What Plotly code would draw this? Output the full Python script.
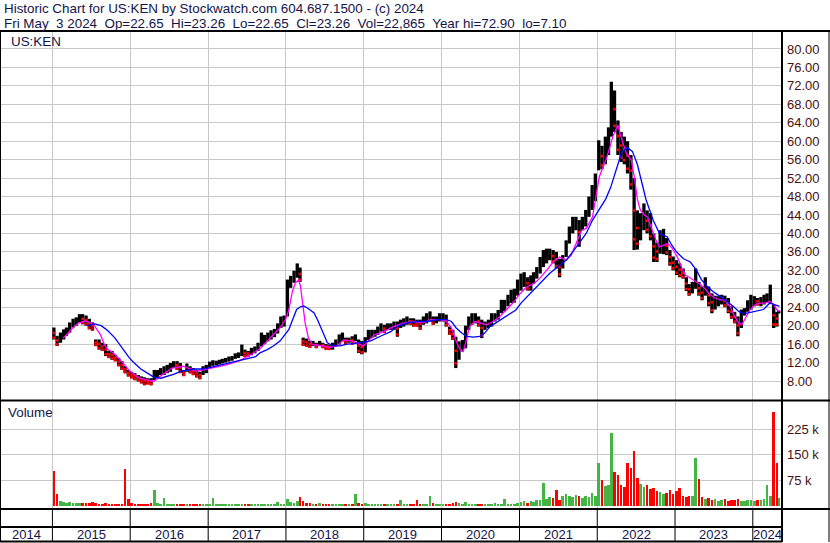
import plotly.graph_objects as go
import datetime as dt

W, H = 830, 543

# ---------------- data ----------------
years = list(range(2014, 2025))

# semimonthly high / low (1st-15th, 16th-end), Jan 2015 .. 3 May 2024
hi_2015 = [19.6, 17.8, 18.5, 19.2, 19.6, 20.7, 21.5, 21.8, 22.5, 22.5, 22.2, 21.5, 20.7, 17.0, 17.0, 16.3, 16.0, 14.5, 14.5, 13.7, 13.0, 12.3, 11.2, 10.4]
lo_2015 = [17.0, 15.6, 16.3, 17.0, 17.8, 18.5, 19.6, 20.0, 20.7, 20.3, 20.0, 19.2, 18.9, 15.6, 14.8, 14.5, 13.4, 13.0, 12.6, 12.3, 11.2, 10.4, 9.7, 9.0]
hi_2016 = [10.0, 9.7, 9.3, 9.0, 8.8, 8.6, 8.6, 10.4, 10.4, 10.8, 11.2, 11.5, 11.9, 12.3, 12.3, 11.9, 10.4, 11.8, 11.2, 10.8, 10.4, 10.0, 11.2, 11.5]
lo_2016 = [8.6, 8.2, 7.9, 7.5, 7.1, 7.3, 7.1, 8.2, 8.8, 9.3, 9.3, 9.7, 10.0, 10.8, 10.4, 9.7, 9.1, 10.0, 9.7, 9.3, 8.8, 8.4, 9.3, 9.7]
hi_2017 = [12.2, 12.5, 12.4, 12.6, 12.8, 13.0, 13.3, 13.4, 14.0, 14.2, 15.9, 14.8, 14.5, 15.2, 15.5, 16.3, 18.5, 18.0, 18.5, 19.0, 19.3, 20.5, 22.0, 22.2]
lo_2017 = [11.0, 11.3, 11.4, 11.6, 11.8, 12.0, 12.2, 12.4, 12.8, 13.0, 13.4, 13.2, 13.3, 13.6, 14.0, 14.5, 15.5, 16.0, 16.6, 17.0, 17.5, 18.3, 19.5, 19.8]
hi_2018 = [30.0, 30.8, 31.9, 33.5, 32.6, 17.4, 17.2, 16.7, 16.7, 16.3, 16.7, 16.3, 16.0, 15.9, 16.3, 17.0, 18.1, 18.5, 17.4, 17.4, 17.7, 18.1, 17.0, 16.7]
lo_2018 = [22.0, 28.2, 29.3, 30.4, 29.5, 15.6, 15.4, 15.2, 15.6, 15.2, 15.6, 15.2, 14.8, 14.8, 14.8, 15.6, 15.9, 16.6, 15.9, 16.3, 15.9, 16.6, 14.1, 13.8]
hi_2019 = [17.5, 19.1, 19.1, 19.1, 19.8, 20.5, 20.2, 20.5, 20.5, 20.9, 20.9, 21.3, 21.6, 22.0, 21.6, 21.6, 21.3, 21.3, 22.0, 22.7, 23.1, 22.0, 22.0, 22.7]
lo_2019 = [14.2, 16.9, 17.3, 17.6, 18.0, 18.7, 18.4, 19.1, 19.1, 19.1, 17.6, 19.5, 19.8, 20.2, 20.2, 19.8, 19.8, 19.1, 20.2, 20.5, 20.9, 20.2, 20.5, 20.9]
hi_2020 = [22.7, 22.4, 19.8, 19.1, 17.6, 16.6, 16.9, 20.0, 22.0, 22.7, 22.7, 22.0, 21.3, 20.9, 21.3, 22.7, 22.7, 23.4, 25.6, 25.6, 26.7, 27.8, 28.0, 30.0]
lo_2020 = [20.9, 19.8, 18.0, 16.9, 10.8, 12.6, 14.4, 15.1, 19.1, 20.2, 20.5, 19.8, 17.3, 19.1, 19.5, 19.8, 20.9, 21.3, 22.7, 23.1, 24.2, 24.9, 25.0, 26.5]
hi_2021 = [31.3, 31.6, 30.5, 30.9, 31.6, 32.7, 34.9, 36.4, 36.7, 36.7, 36.4, 36.0, 34.5, 35.3, 38.5, 41.5, 43.6, 43.6, 42.9, 43.6, 45.1, 48.0, 50.5, 53.0]
lo_2021 = [27.6, 28.4, 27.6, 27.6, 29.1, 30.2, 31.3, 32.7, 33.5, 34.2, 33.5, 32.4, 30.5, 32.4, 34.9, 37.8, 40.0, 40.7, 37.1, 40.7, 41.5, 43.6, 45.1, 47.0]
hi_2022 = [60.2, 59.0, 61.0, 63.0, 72.9, 71.0, 64.5, 62.0, 61.0, 60.0, 57.0, 52.0, 45.0, 44.4, 46.5, 45.0, 44.4, 40.0, 38.0, 40.7, 41.0, 39.0, 36.4, 35.0]
lo_2022 = [53.7, 54.0, 55.0, 57.0, 61.0, 62.0, 57.0, 55.5, 55.0, 53.0, 49.5, 36.4, 36.5, 38.5, 40.7, 40.0, 38.5, 33.8, 33.8, 35.6, 35.5, 35.3, 33.0, 32.0]
hi_2023 = [34.2, 33.5, 32.4, 30.5, 29.0, 29.5, 32.4, 29.5, 28.5, 30.5, 28.5, 27.0, 26.5, 26.4, 26.7, 26.5, 26.0, 24.2, 23.0, 22.0, 23.5, 23.8, 25.5, 26.7]
lo_2023 = [31.0, 30.5, 30.2, 27.5, 26.5, 27.0, 28.0, 26.5, 25.5, 26.5, 24.2, 22.7, 23.5, 24.2, 24.6, 24.0, 22.7, 21.5, 20.5, 17.7, 19.5, 22.2, 23.0, 23.5]
hi_2024 = [26.4, 26.0, 26.2, 26.7, 27.0, 28.9, 24.5, 23.0, 23.26]
lo_2024 = [24.2, 24.4, 24.2, 24.6, 25.0, 24.9, 19.5, 19.8, 22.65]

# biggest daily volume in each half month (thousands of shares)
vol_2015 = [103, 35, 15, 12, 10, 12, 8, 10, 9, 8, 10, 8, 12, 8, 7, 6, 8, 6, 6, 7, 5, 6, 107, 20]
vol_2016 = [8, 5, 4, 4, 5, 6, 8, 47, 10, 6, 22, 5, 4, 5, 4, 3, 4, 5, 4, 3, 4, 5, 4, 3]
vol_2017 = [5, 22, 6, 4, 3, 3, 4, 3, 3, 4, 6, 4, 3, 3, 4, 3, 4, 5, 4, 5, 6, 12, 6, 5]
vol_2018 = [20, 12, 10, 14, 27, 15, 10, 8, 6, 5, 8, 6, 5, 4, 5, 6, 5, 6, 5, 4, 6, 34, 8, 6]
vol_2019 = [8, 6, 5, 6, 5, 4, 5, 6, 5, 6, 5, 17, 6, 5, 4, 5, 17, 6, 5, 6, 28, 8, 5, 6]
vol_2020 = [6, 5, 6, 8, 12, 8, 6, 12, 7, 6, 5, 6, 5, 6, 5, 6, 8, 7, 6, 19, 6, 7, 6, 9]
vol_2021 = [12, 15, 10, 14, 12, 16, 18, 66, 20, 25, 22, 47, 18, 28, 35, 30, 25, 32, 28, 22, 30, 25, 39, 30]
vol_2022 = [127, 76, 57, 60, 214, 100, 91, 61, 55, 125, 110, 161, 81, 65, 55, 61, 50, 52, 45, 40, 35, 38, 47, 35]
vol_2023 = [45, 52, 30, 25, 28, 30, 141, 78, 25, 20, 22, 18, 20, 15, 18, 20, 15, 18, 16, 20, 15, 14, 18, 16]
vol_2024 = [15, 18, 16, 20, 61, 30, 276, 125, 23]

# short (magenta) moving average
fast_dates = ["2015-02-20", "2015-03-15", "2015-04-01", "2015-05-01", "2015-06-01", "2015-07-01", "2015-07-20", "2015-08-15", "2015-09-01", "2015-09-15", "2015-10-15", "2015-11-15", "2015-12-31", "2016-02-15", "2016-04-20", "2016-05-20", "2016-07-15", "2016-09-05", "2016-11-05", "2017-01-25", "2017-03-28", "2017-05-28", "2017-07-15", "2017-09-01", "2017-10-05", "2017-11-01", "2017-12-05", "2017-12-31", "2018-01-15", "2018-01-30", "2018-02-14", "2018-03-01", "2018-03-10", "2018-03-18", "2018-04-01", "2018-04-16", "2018-05-05", "2018-06-10", "2018-07-25", "2018-08-28", "2018-09-28", "2018-10-30", "2018-11-28", "2018-12-31", "2019-01-20", "2019-02-20", "2019-04-05", "2019-05-20", "2019-07-08", "2019-08-22", "2019-10-08", "2019-11-10", "2019-12-25", "2020-01-25", "2020-02-17", "2020-03-10", "2020-03-28", "2020-04-12", "2020-04-27", "2020-05-12", "2020-06-05", "2020-06-28", "2020-07-30", "2020-08-30", "2020-10-01", "2020-10-30", "2020-12-01", "2021-01-01", "2021-02-03", "2021-03-08", "2021-04-05", "2021-05-08", "2021-06-08", "2021-07-08", "2021-08-08", "2021-09-01", "2021-10-01", "2021-10-20", "2021-11-10", "2021-12-10", "2022-01-10", "2022-02-15", "2022-03-15", "2022-04-08", "2022-04-22", "2022-05-18", "2022-06-10", "2022-06-24", "2022-07-08", "2022-07-22", "2022-08-10", "2022-08-25", "2022-09-16", "2022-10-04", "2022-10-20", "2022-11-10", "2022-11-28", "2022-12-20", "2023-01-12", "2023-02-06", "2023-02-20", "2023-03-08", "2023-04-01", "2023-04-28", "2023-05-22", "2023-06-14", "2023-07-08", "2023-07-31", "2023-08-22", "2023-09-16", "2023-10-08", "2023-10-26", "2023-11-10", "2023-11-24", "2023-12-20", "2024-01-12", "2024-02-03", "2024-02-28", "2024-03-21", "2024-04-08", "2024-04-22", "2024-05-03"]
fast_vals = [17.3, 18.3, 19.3, 20.5, 21.0, 20.6, 19.8, 18.0, 16.0, 15.0, 14.0, 12.6, 10.1, 8.6, 7.9, 9.0, 10.8, 11.2, 10.1, 10.8, 11.5, 12.4, 13.6, 15.0, 16.7, 18.1, 19.6, 21.4, 23.5, 27.2, 29.3, 29.9, 28.6, 25.7, 20.6, 17.4, 15.9, 15.7, 15.3, 15.6, 16.9, 16.7, 16.3, 15.6, 16.6, 18.0, 18.7, 19.8, 20.6, 20.9, 20.6, 21.3, 21.3, 20.9, 19.5, 16.6, 14.8, 14.4, 16.9, 19.8, 20.9, 20.6, 20.2, 20.9, 22.0, 23.4, 24.9, 26.8, 28.4, 29.1, 30.2, 32.0, 33.8, 34.9, 34.2, 35.3, 38.5, 40.7, 41.1, 43.6, 52.2, 56.5, 61.0, 63.5, 61.0, 57.3, 55.9, 52.2, 47.5, 45.1, 44.0, 43.6, 40.7, 38.5, 37.1, 37.5, 37.8, 36.7, 34.9, 32.0, 30.9, 30.5, 29.8, 29.0, 28.0, 26.7, 26.0, 25.6, 25.6, 24.2, 22.0, 20.6, 20.2, 21.3, 23.5, 24.6, 24.9, 24.9, 25.3, 24.6, 23.5, 23.1]

# long (blue) moving average
slow_dates = ["2015-06-10", "2015-07-18", "2015-08-18", "2015-09-18", "2015-10-20", "2015-11-12", "2015-12-05", "2015-12-28", "2016-01-20", "2016-02-20", "2016-03-22", "2016-04-22", "2016-05-24", "2016-06-25", "2016-07-25", "2016-08-25", "2016-09-25", "2016-10-27", "2016-11-26", "2016-12-28", "2017-03-01", "2017-05-01", "2017-07-01", "2017-08-12", "2017-09-01", "2017-10-05", "2017-11-03", "2017-12-05", "2017-12-28", "2018-01-15", "2018-01-30", "2018-02-20", "2018-03-10", "2018-03-25", "2018-04-10", "2018-05-12", "2018-05-28", "2018-06-12", "2018-06-28", "2018-07-14", "2018-08-12", "2018-09-12", "2018-10-15", "2018-11-15", "2018-12-31", "2019-02-03", "2019-03-20", "2019-05-08", "2019-06-06", "2019-07-22", "2019-09-10", "2019-10-25", "2019-12-10", "2020-01-25", "2020-02-17", "2020-03-10", "2020-04-05", "2020-04-28", "2020-05-30", "2020-06-28", "2020-07-22", "2020-08-15", "2020-09-12", "2020-10-15", "2020-11-15", "2020-12-15", "2021-01-08", "2021-02-20", "2021-04-05", "2021-05-22", "2021-07-08", "2021-08-08", "2021-09-08", "2021-10-08", "2021-11-10", "2021-12-10", "2022-01-10", "2022-02-10", "2022-03-05", "2022-04-01", "2022-04-25", "2022-05-22", "2022-06-15", "2022-07-08", "2022-07-25", "2022-08-18", "2022-09-20", "2022-10-20", "2022-11-06", "2022-11-25", "2022-12-16", "2023-01-08", "2023-02-10", "2023-03-14", "2023-04-12", "2023-05-05", "2023-06-01", "2023-06-28", "2023-07-30", "2023-09-01", "2023-10-01", "2023-10-27", "2023-11-10", "2023-12-05", "2023-12-28", "2024-01-18", "2024-02-20", "2024-03-06", "2024-03-20", "2024-04-15", "2024-05-05"]
slow_vals = [20.0, 20.4, 20.0, 18.9, 17.4, 15.9, 14.5, 13.0, 11.9, 10.6, 9.7, 8.8, 8.6, 9.0, 9.5, 10.1, 10.4, 10.6, 10.6, 10.8, 11.5, 12.2, 12.8, 13.3, 14.1, 14.8, 15.6, 16.7, 18.1, 19.2, 21.0, 23.5, 24.1, 24.3, 23.9, 22.8, 21.4, 19.9, 18.1, 16.3, 15.6, 15.6, 16.0, 16.1, 16.4, 16.7, 17.7, 18.7, 19.8, 20.6, 20.9, 20.9, 21.3, 21.3, 20.9, 19.5, 18.4, 17.7, 17.5, 17.7, 18.4, 19.8, 20.6, 21.6, 22.4, 23.4, 24.9, 26.9, 29.1, 31.3, 33.1, 34.2, 36.0, 37.8, 40.0, 42.9, 45.1, 47.5, 50.0, 54.0, 57.5, 58.6, 57.8, 55.0, 51.6, 47.3, 42.9, 40.0, 39.6, 39.3, 37.5, 36.0, 34.5, 33.8, 32.0, 30.0, 28.5, 27.4, 26.4, 25.3, 24.2, 23.1, 22.7, 22.7, 22.9, 23.1, 23.5, 24.2, 24.9, 24.5, 24.2]

price_ticks = list(range(8, 81, 4))
vol_ticks = [75000, 150000, 225000]

header1 = "Historic Chart for US:KEN by Stockwatch.com 604.687.1500 - (c) 2024"
header2 = "Fri May  3 2024  Op=22.65  Hi=23.26  Lo=22.65  Cl=23.26  Vol=22,865  Year hi=72.90  lo=7.10"

# ---------------- assemble ----------------
hi = hi_2015 + hi_2016 + hi_2017 + hi_2018 + hi_2019 + hi_2020 + hi_2021 + hi_2022 + hi_2023 + hi_2024
lo = lo_2015 + lo_2016 + lo_2017 + lo_2018 + lo_2019 + lo_2020 + lo_2021 + lo_2022 + lo_2023 + lo_2024
vol = vol_2015 + vol_2016 + vol_2017 + vol_2018 + vol_2019 + vol_2020 + vol_2021 + vol_2022 + vol_2023 + vol_2024

per_dates = []
for yy in range(2015, 2025):
    for mm in range(1, 13):
        per_dates += [f"{yy}-{mm:02d}-08", f"{yy}-{mm:02d}-23"]
per_dates = per_dates[:len(hi)]
per_dates[-1] = "2024-05-02"

mid = [(h + l) / 2 for h, l in zip(hi, lo)]
down = [True] + [mid[i] < mid[i - 1] for i in range(1, len(mid))]

def px(x):
    return x / W

def py(y):
    return 1 - y / H

X_RIGHT = 782
X_START = "2014-04-30"
X_END = "2024-05-17"

fig = go.Figure()

bx, by = [], []
for d, h, l in zip(per_dates, hi, lo):
    bx += [d, d, None]
    by += [l, h, None]
fig.add_trace(go.Scatter(x=bx, y=by, mode="lines", line=dict(color="black", width=3.3),
                         xaxis="x", yaxis="y", hoverinfo="skip", showlegend=False))

rx, ry = [], []
for d, h, l, f in zip(per_dates, hi, lo, down):
    if f:
        rx += [d, d]
        ry += [l + 0.15 * (h - l), l + 0.55 * (h - l)]
fig.add_trace(go.Scatter(x=rx, y=ry, mode="markers",
                         marker=dict(color="#ff0000", size=2.6, symbol="square", line=dict(width=0)),
                         xaxis="x", yaxis="y", hoverinfo="skip", showlegend=False))

fig.add_trace(go.Scatter(x=fast_dates, y=fast_vals, mode="lines", line=dict(color="#ff00ff", width=1.3),
                         xaxis="x", yaxis="y", hoverinfo="skip", showlegend=False))
fig.add_trace(go.Scatter(x=slow_dates, y=slow_vals, mode="lines", line=dict(color="#0000ff", width=1.3),
                         xaxis="x", yaxis="y", hoverinfo="skip", showlegend=False))

vcolors = ["#ff0000" if f else "#44b444" for f in down]
fig.add_trace(go.Bar(x=per_dates, y=[v * 1000 for v in vol], marker=dict(color=vcolors, line=dict(width=0)),
                     width=12 * 86400000, xaxis="x", yaxis="y2", hoverinfo="skip", showlegend=False))

grid = "#c8c8c8"
lab_color = "#4a1010"
txt_color = "#14144a"
font = "Liberation Sans, Arial, sans-serif"

year_starts = [f"{y}-01-01" for y in years[1:]]

fig.update_layout(
    width=W, height=H,
    margin=dict(l=0, r=0, t=0, b=0),
    paper_bgcolor="white", plot_bgcolor="white",
    showlegend=False,
    bargap=0,
    font=dict(family=font, size=13, color=txt_color),
    xaxis=dict(domain=[0, px(X_RIGHT)], range=[X_START, X_END], type="date",
               tickvals=year_starts, showticklabels=False, ticks="",
               showgrid=True, gridcolor=grid, gridwidth=1, zeroline=False, showline=False,
               anchor="y2", fixedrange=True),
    yaxis=dict(domain=[py(400), py(31)], range=[3.88, 83.9], side="right", anchor="x",
               tickvals=price_ticks, ticktext=[f"{v:.2f}" for v in price_ticks],
               tickfont=dict(family=font, size=13, color=lab_color), ticks="",
               showgrid=True, gridcolor=grid, gridwidth=1, zeroline=False, showline=False,
               ticklabelstandoff=4),
    yaxis2=dict(domain=[py(508), py(402)], range=[-6000, 304000], side="right", anchor="x",
                tickvals=vol_ticks, ticktext=["75 k", "150 k", "225 k"],
                tickfont=dict(family=font, size=13, color=lab_color), ticks="",
                showgrid=True, gridcolor=grid, gridwidth=1, zeroline=False, showline=False,
                ticklabelstandoff=4),
)

shapes = []
def hline(y, x0=0, x1=W, w=2):
    shapes.append(dict(type="line", xref="paper", yref="paper", x0=px(x0), x1=px(x1),
                       y0=py(y), y1=py(y), line=dict(color="black", width=w)))

def vline(x, y0, y1, w=2):
    shapes.append(dict(type="line", xref="paper", yref="paper", x0=px(x), x1=px(x),
                       y0=py(y0), y1=py(y1), line=dict(color="black", width=w)))

hline(31)
hline(400.5)
hline(509)
hline(527, 0, X_RIGHT)
hline(541.5, 0, X_RIGHT)
vline(X_RIGHT, 31, 542)
vline(0.5, 31, 542, 1)
vline(829, 31, 542, 1)

for ys in year_starts:
    shapes.append(dict(type="line", xref="x", yref="paper", x0=ys, x1=ys,
                       y0=py(541), y1=py(509), line=dict(color="black", width=1)))

annotations = [
    dict(text=header1, x=px(2), y=py(8.5), xref="paper", yref="paper", xanchor="left", yanchor="middle",
         showarrow=False, font=dict(size=13.4, color=txt_color)),
    dict(text=header2.replace("  ", "\u00a0 "), x=px(2), y=py(23), xref="paper", yref="paper",
         xanchor="left", yanchor="middle", showarrow=False, font=dict(size=13.4, color=txt_color)),
    dict(text="US:KEN", x=px(9), y=py(41.5), xref="paper", yref="paper", xanchor="left", yanchor="middle",
         showarrow=False, font=dict(size=13.4, color=txt_color)),
    dict(text="Volume", x=px(6), y=py(413), xref="paper", yref="paper", xanchor="left", yanchor="middle",
         showarrow=False, font=dict(size=13.4, color=txt_color)),
]

d0 = dt.date.fromisoformat(X_START)
d1 = dt.date.fromisoformat(X_END)
for y in years:
    a = max(dt.date(y, 1, 1), d0)
    b = min(dt.date(y + 1, 1, 1), d1)
    c = a + (b - a) / 2
    annotations.append(dict(text=str(y), x=c.isoformat(), y=py(534.5), xref="x", yref="paper",
                            xanchor="center", yanchor="middle", showarrow=False,
                            font=dict(size=13, color=txt_color)))

fig.update_layout(shapes=shapes, annotations=annotations)
fig.write_html("out.html", config={"displayModeBar": False},
               post_script="document.body.style.margin='0';document.body.style.padding='0';")
